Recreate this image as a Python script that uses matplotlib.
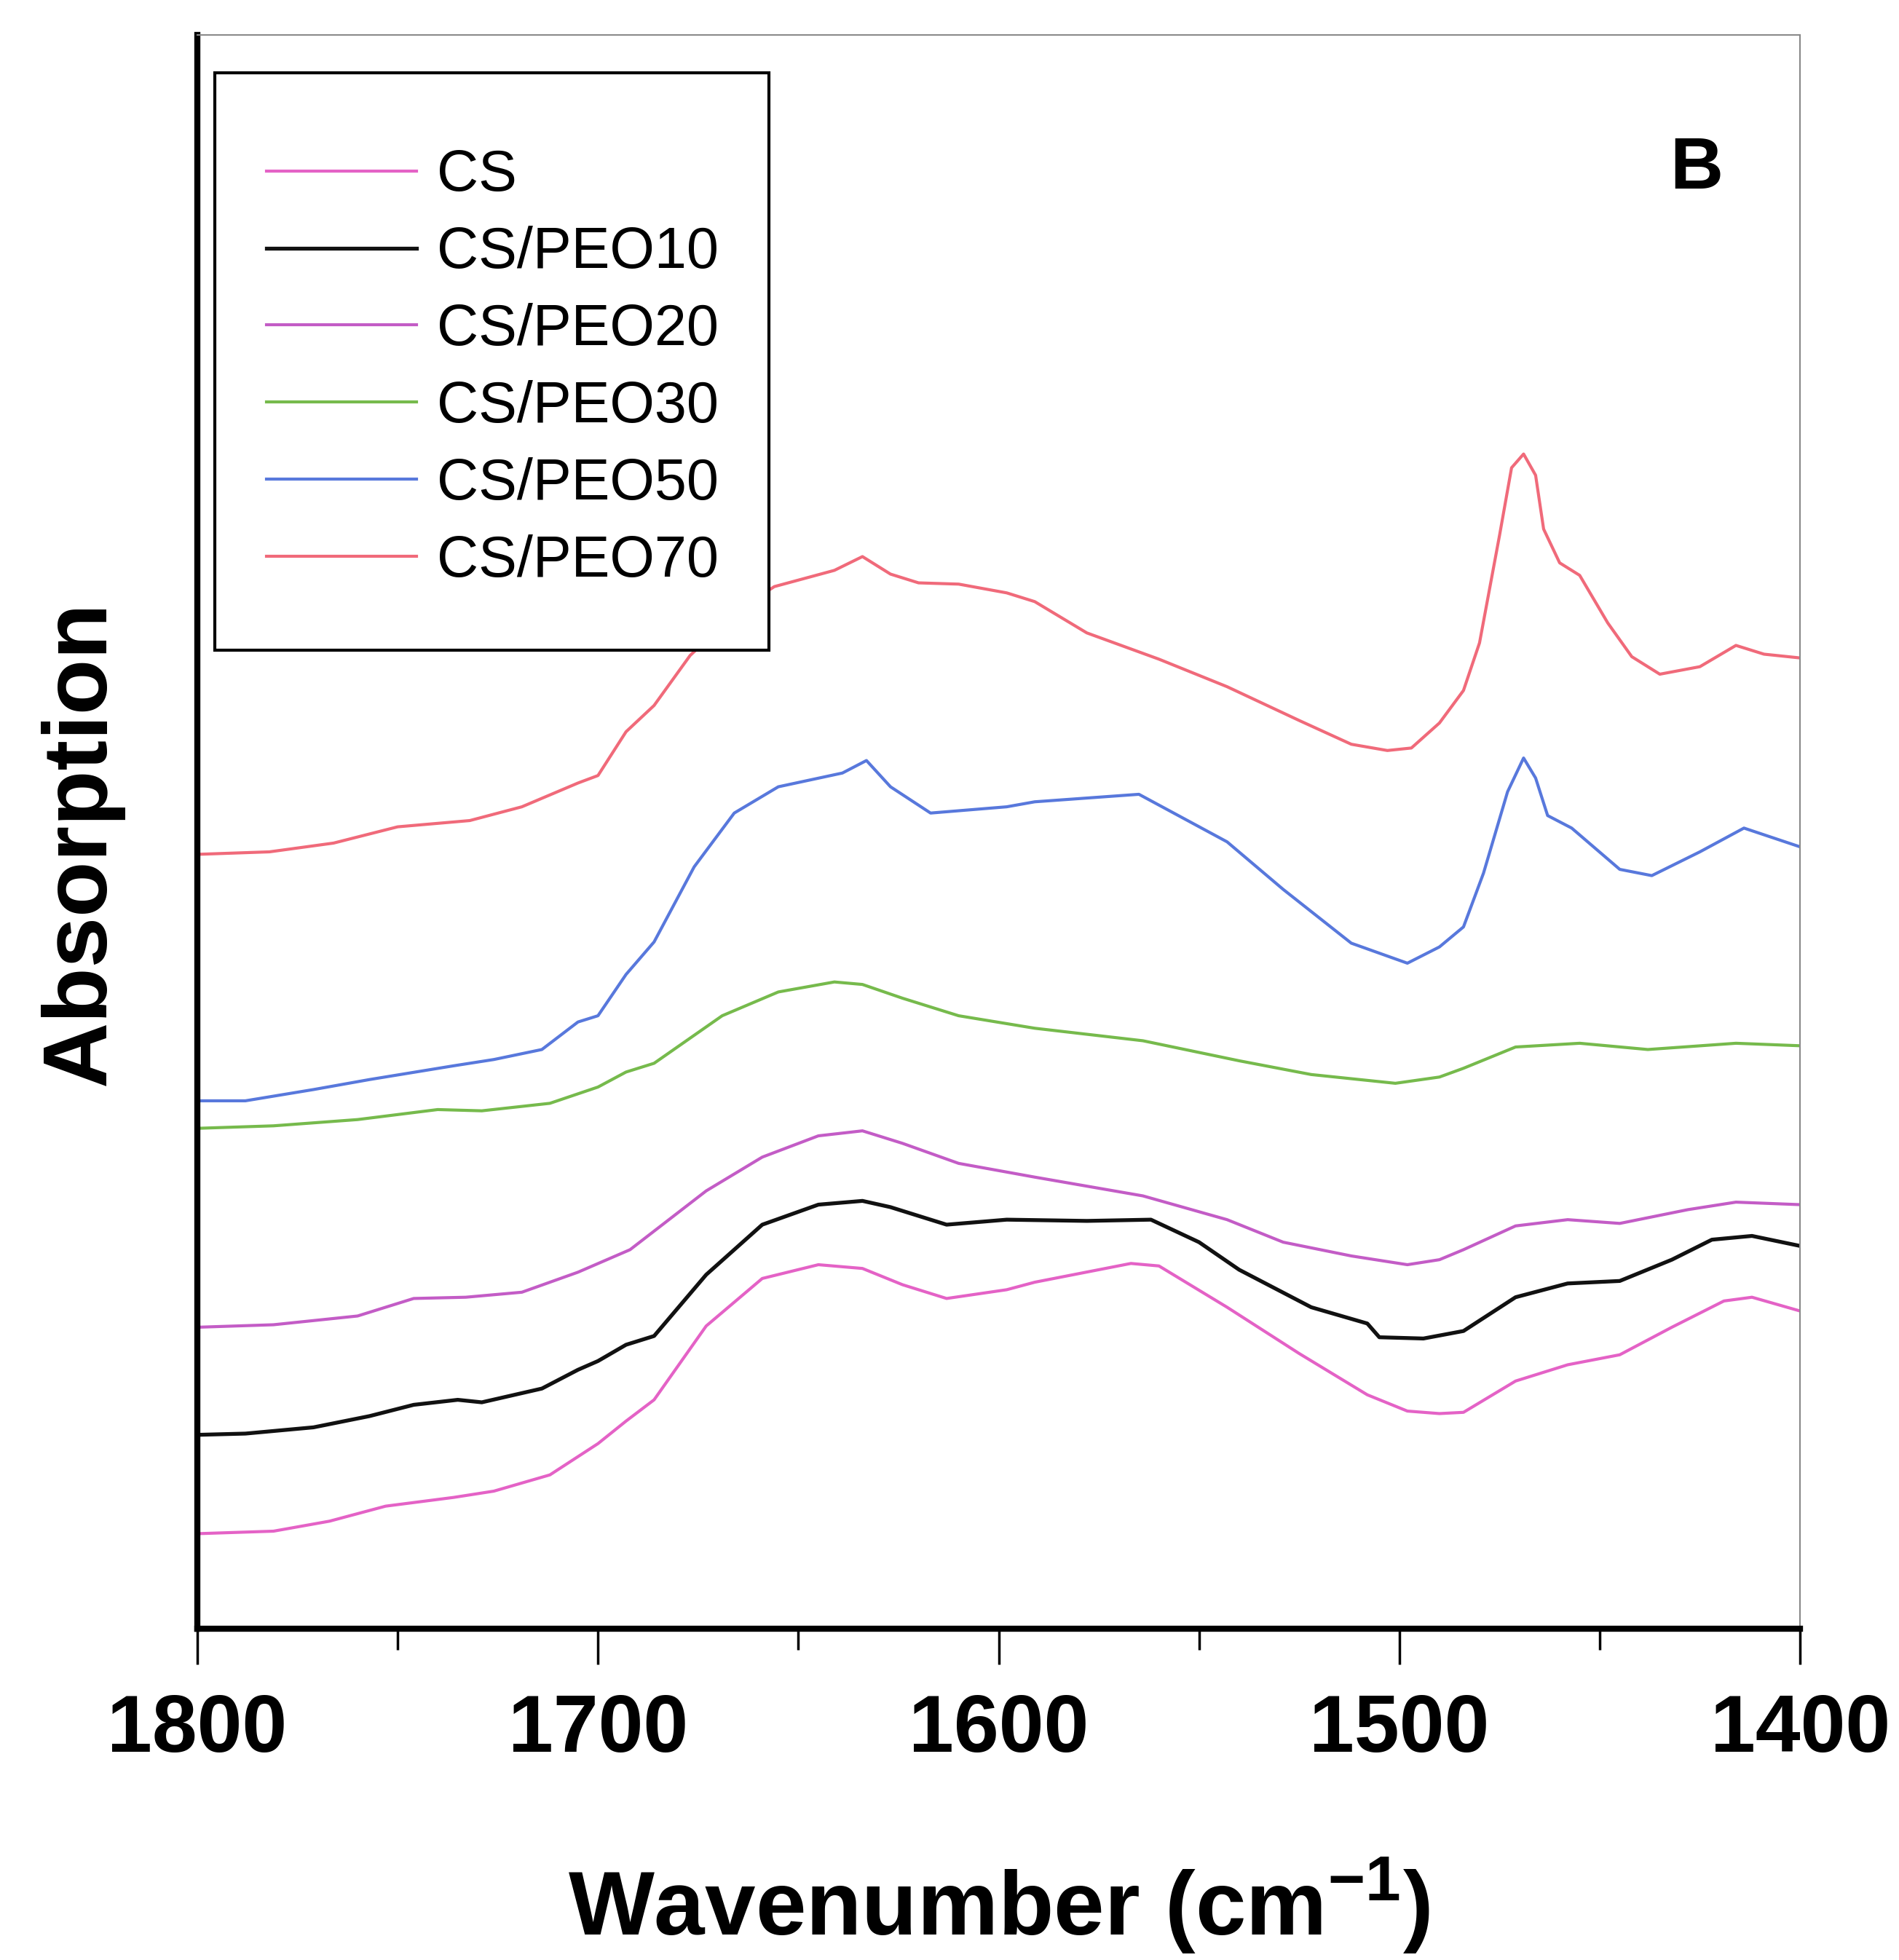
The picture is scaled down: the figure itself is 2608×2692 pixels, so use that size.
import matplotlib
matplotlib.use("Agg")
import matplotlib.pyplot as plt
from matplotlib.patches import Rectangle
from matplotlib.ticker import MultipleLocator

plt.rcParams['font.family'] = ['Liberation Sans', 'DejaVu Sans']
plt.rcParams['mathtext.fontset'] = 'custom'
plt.rcParams['mathtext.rm'] = 'Liberation Sans:bold'
plt.rcParams['mathtext.bf'] = 'Liberation Sans:bold'

# FTIR spectra, absorption in arbitrary (offset) units
wn_cs = [1800, 1781, 1767, 1753, 1736, 1726, 1712, 1700, 1693, 1686, 1673, 1659, 1645, 1634,
         1624, 1613, 1598, 1591, 1567, 1560, 1543, 1525, 1508, 1498, 1490, 1484, 1471, 1458,
         1445, 1432, 1419, 1412, 1400]
a_cs = [0.076, 0.078, 0.086, 0.098, 0.105, 0.110, 0.123, 0.148, 0.166, 0.183, 0.242, 0.280, 0.291,
        0.288, 0.275, 0.264, 0.271, 0.277, 0.292, 0.290, 0.257, 0.220, 0.187, 0.174, 0.172, 0.173,
        0.198, 0.211, 0.219, 0.241, 0.262, 0.265, 0.254]

wn_10 = [1800, 1788, 1771, 1757, 1746, 1735, 1729, 1714, 1705, 1700, 1693, 1686, 1673, 1659, 1645,
         1634, 1627, 1613, 1598, 1578, 1562, 1550, 1540, 1522, 1508, 1505, 1494, 1484, 1471, 1458,
         1445, 1432, 1422, 1412, 1400]
a_10 = [0.155, 0.156, 0.161, 0.170, 0.179, 0.183, 0.181, 0.192, 0.207, 0.214, 0.227, 0.234, 0.283,
        0.323, 0.339, 0.342, 0.337, 0.323, 0.327, 0.326, 0.327, 0.309, 0.287, 0.257, 0.244, 0.233,
        0.232, 0.238, 0.265, 0.276, 0.278, 0.295, 0.311, 0.314, 0.306]

wn_20 = [1800, 1781, 1760, 1746, 1733, 1719, 1705, 1692, 1673, 1659, 1645, 1634, 1624, 1610, 1591,
         1564, 1543, 1529, 1512, 1498, 1490, 1484, 1471, 1458, 1445, 1428, 1416, 1400]
a_20 = [0.241, 0.243, 0.250, 0.264, 0.265, 0.269, 0.285, 0.303, 0.350, 0.377, 0.394, 0.398, 0.388,
        0.372, 0.361, 0.346, 0.327, 0.309, 0.298, 0.291, 0.295, 0.303, 0.322, 0.327, 0.324, 0.335,
        0.341, 0.339]

wn_30 = [1800, 1781, 1760, 1740, 1729, 1712, 1700, 1693, 1686, 1669, 1655, 1641, 1634, 1624, 1610,
         1591, 1564, 1540, 1522, 1501, 1490, 1484, 1471, 1455, 1438, 1416, 1400]
a_30 = [0.400, 0.402, 0.407, 0.415, 0.414, 0.420, 0.433, 0.445, 0.452, 0.490, 0.509, 0.517, 0.515,
        0.504, 0.490, 0.480, 0.470, 0.454, 0.443, 0.436, 0.441, 0.448, 0.465, 0.468, 0.463, 0.468,
        0.466]

wn_50 = [1800, 1788, 1771, 1757, 1736, 1726, 1714, 1705, 1700, 1693, 1686, 1676, 1666, 1655, 1639,
         1633, 1627, 1617, 1598, 1591, 1565, 1543, 1529, 1512, 1498, 1490, 1484, 1479, 1473, 1469,
         1466, 1463, 1457, 1445, 1437, 1425, 1414, 1400]
a_50 = [0.422, 0.422, 0.431, 0.439, 0.450, 0.455, 0.463, 0.485, 0.490, 0.523, 0.549, 0.609, 0.652,
        0.673, 0.684, 0.694, 0.673, 0.652, 0.657, 0.661, 0.667, 0.629, 0.591, 0.548, 0.532, 0.545,
        0.561, 0.604, 0.669, 0.696, 0.680, 0.650, 0.640, 0.607, 0.602, 0.621, 0.640, 0.625]

wn_70 = [1800, 1782, 1766, 1750, 1732, 1719, 1705, 1700, 1693, 1686, 1677, 1665, 1656, 1641, 1634,
         1627, 1620, 1610, 1598, 1591, 1578, 1560, 1543, 1525, 1512, 1503, 1497, 1490, 1484, 1480,
         1475, 1472, 1469, 1466, 1464, 1460, 1455, 1448, 1442, 1435, 1425, 1416, 1409, 1400]
a_70 = [0.619, 0.621, 0.628, 0.641, 0.646, 0.657, 0.676, 0.682, 0.717, 0.738, 0.778, 0.814, 0.833,
        0.846, 0.857, 0.843, 0.836, 0.835, 0.828, 0.821, 0.796, 0.775, 0.753, 0.726, 0.707, 0.702,
        0.704, 0.724, 0.750, 0.788, 0.874, 0.928, 0.939, 0.922, 0.879, 0.852, 0.842, 0.804, 0.777,
        0.763, 0.769, 0.786, 0.779, 0.776]

labels = ["CS", "CS/PEO10", "CS/PEO20", "CS/PEO30", "CS/PEO50", "CS/PEO70"]
xs = [wn_cs, wn_10, wn_20, wn_30, wn_50, wn_70]
ys = [a_cs, a_10, a_20, a_30, a_50, a_70]
colors = ["#e462c6", "#111111", "#c35cc6", "#76ba4c", "#5878dc", "#f06a7a"]
widths = [3.0, 3.8, 3.0, 3.0, 3.0, 3.0]

fig = plt.figure(figsize=(26.08, 26.92), dpi=100)
ax = fig.add_axes([0.1039, 0.169, 0.8440, 0.8132])

for x, y, c, w, lab in zip(xs, ys, colors, widths, labels):
    ax.plot(x, y, color=c, lw=w, label=lab, zorder=2)

ax.set_xlim(1800, 1400)
ax.set_ylim(0, 1.274)
ax.xaxis.set_major_locator(MultipleLocator(100))
ax.xaxis.set_minor_locator(MultipleLocator(50))
ax.set_yticks([])
ax.tick_params(axis='x', which='major', direction='out', length=35, width=2.5, pad=28)
ax.tick_params(axis='x', which='minor', direction='out', length=21, width=2.5)
for t in ax.get_xticklabels():
    t.set_fontsize(80)
    t.set_fontweight('bold')

for s in ['left', 'bottom']:
    ax.spines[s].set_linewidth(6)
    ax.spines[s].set_color('black')
for s in ['top', 'right']:
    ax.spines[s].set_linewidth(1.5)
    ax.spines[s].set_color('#8a8a8a')

ax.set_xlabel(r'Wavenumber (cm$^{-1}$)', fontsize=90, fontweight='bold', va='top')
ax.xaxis.set_label_coords(0.5, -0.142)
ax.set_ylabel('Absorption', fontsize=90, fontweight='bold')
ax.yaxis.set_label_coords(-0.046, 0.493)

ax.text(0.9355, 0.9155, 'B', transform=ax.transAxes, fontsize=73, fontweight='bold',
        ha='center', va='center')

# legend frame drawn separately so the padding can match the original box
ax.add_patch(Rectangle((0.0109, 0.614), 0.3458, 0.362, transform=ax.transAxes,
                       facecolor='white', edgecolor='black', lw=3, zorder=4))
leg = ax.legend(loc='upper left', bbox_to_anchor=(0.0432, 0.9285), fontsize=57,
                frameon=False, borderpad=0, handlelength=2.6, handletextpad=0.35,
                labelspacing=0.39, borderaxespad=0)
leg.set_zorder(5)

fig.savefig('out.png', dpi=100, facecolor='white')
